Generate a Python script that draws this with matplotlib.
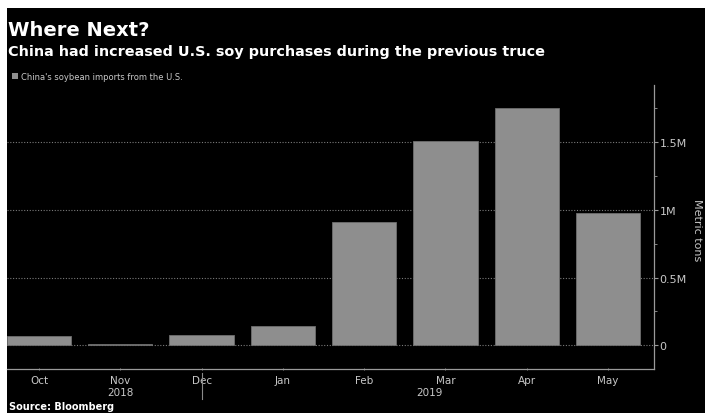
import numpy as np
import matplotlib
matplotlib.use("Agg")
import matplotlib.pyplot as plt
from matplotlib.patches import Rectangle
from matplotlib.ticker import FuncFormatter, MultipleLocator
import matplotlib.transforms as mtransforms

# China's soybean imports from the U.S. (metric tons)
months = ["Oct", "Nov", "Dec", "Jan", "Feb", "Mar", "Apr", "May"]
imports = [71000, 10000, 76000, 140000, 912000, 1510000, 1750000, 976000]
years = ["2018", "2019"]
year_pos = [1, 4.8]
year_split = 2

bar_color = "#8e8e8e"
text_grey = "#c8c8c8"

fig = plt.figure(figsize=(7.05, 4.14), dpi=100, facecolor="white")
# black panel with thin white margins on top and left
fig.patches.append(Rectangle((7 / 705, 0), 1, (414 - 9) / 414, transform=fig.transFigure,
                             facecolor="black", edgecolor="none", zorder=-10))

ax = fig.add_axes([7 / 705, (414 - 370) / 414, (654 - 7) / 705, (370 - 86) / 414])
ax.set_facecolor("black")

x = np.arange(len(months))
ax.bar(x, imports, width=0.79, color=bar_color, edgecolor="#6e6e6e", linewidth=0.6, zorder=3)

ax.set_xlim(-0.394, 7.566)
ax.set_ylim(-175000, 1921000)

# y axis on the right
ax.yaxis.tick_right()
ax.yaxis.set_major_locator(MultipleLocator(500000))
ax.yaxis.set_minor_locator(MultipleLocator(250000))
ax.yaxis.set_major_formatter(FuncFormatter(lambda v, p: "0" if v == 0 else f"{v / 1e6:g}M"))
ax.tick_params(axis="y", which="major", colors="#9a9a9a", labelcolor=text_grey,
               labelsize=8, length=3, width=0.8, pad=1)
ax.tick_params(axis="y", which="minor", colors="#9a9a9a", length=2, width=0.6)
ax.grid(axis="y", which="major", color="#7a7a7a", linestyle=(0, (1, 1.5)), linewidth=0.8, zorder=0)

ax.set_xticks(x)
ax.set_xticklabels(months)
ax.tick_params(axis="x", colors="#9a9a9a", labelcolor=text_grey, labelsize=7.5,
               length=2, width=0.6, direction="inout", pad=3)

for s in ["top", "left"]:
    ax.spines[s].set_visible(False)
for s in ["right", "bottom"]:
    ax.spines[s].set_color("#9a9a9a")
    ax.spines[s].set_linewidth(0.9)

# year labels and separator under the months
trans = mtransforms.blended_transform_factory(ax.transData, fig.transFigure)
for yr, pos in zip(years, year_pos):
    ax.text(pos, (414 - 393) / 414, yr, transform=trans, ha="center", va="center",
            color=text_grey, fontsize=7.5)
ax.plot([year_split, year_split], [(414 - 374) / 414, (414 - 400) / 414], transform=trans,
        color="#8a8a8a", linewidth=0.8, clip_on=False)

# titles and legend
fig.text(8 / 705, (414 - 30) / 414, "Where Next?", color="white", fontsize=14,
         fontweight="bold", va="center", ha="left")
fig.text(8 / 705, (414 - 52) / 414, "China had increased U.S. soy purchases during the previous truce",
         color="white", fontsize=10.4, fontweight="bold", va="center", ha="left")
fig.patches.append(Rectangle((12 / 705, (414 - 80) / 414), 6 / 705, 6 / 414, transform=fig.transFigure,
                             facecolor=bar_color, edgecolor="none"))
fig.text(21 / 705, (414 - 77) / 414, "China's soybean imports from the U.S.", color=text_grey,
         fontsize=6, va="center", ha="left")

fig.text(697 / 705, (414 - 230) / 414, "Metric tons", color=text_grey, fontsize=8,
         rotation=270, va="center", ha="center")
fig.text(9 / 705, (414 - 407) / 414, "Source: Bloomberg", color="white", fontsize=7,
         fontweight="bold", va="center", ha="left")

fig.savefig("out.png", dpi=100, facecolor=fig.get_facecolor())
